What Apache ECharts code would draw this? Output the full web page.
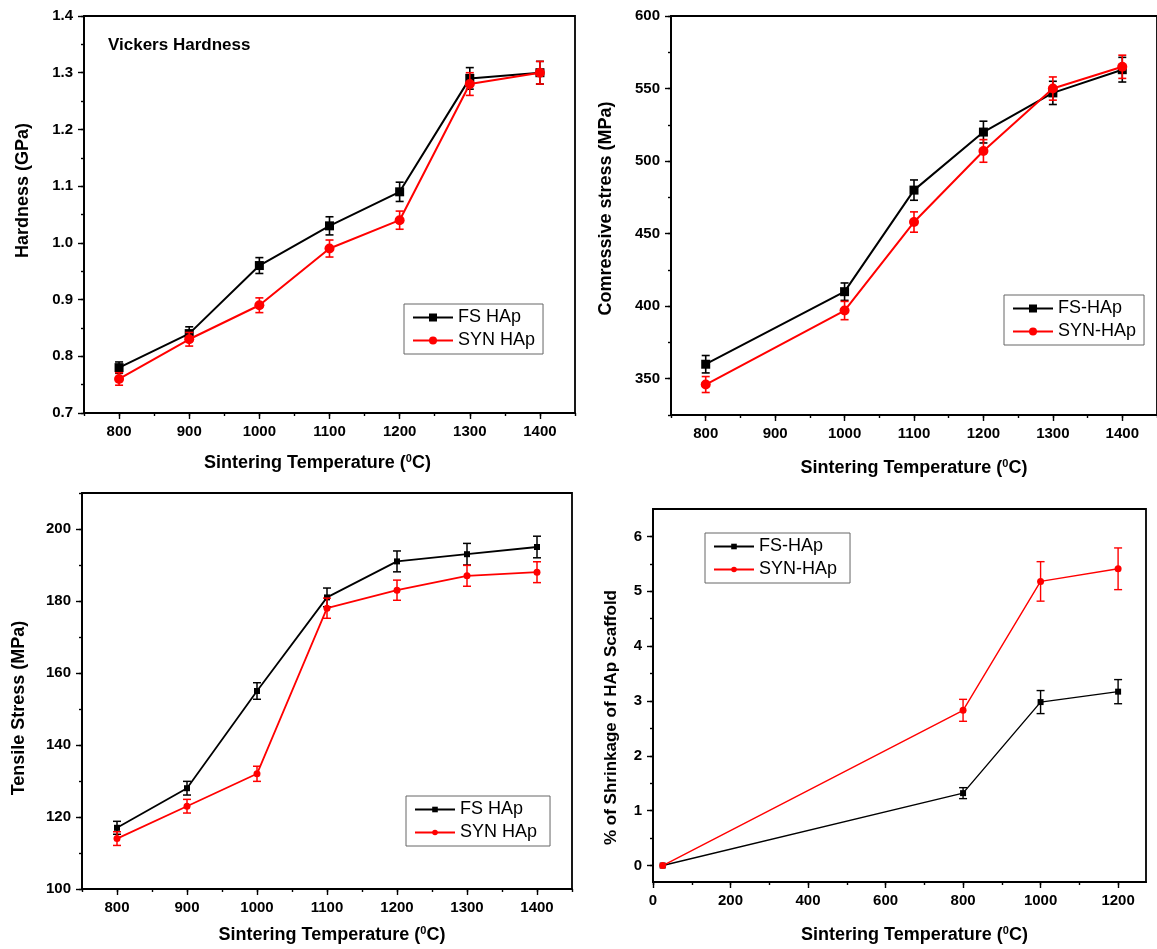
<!DOCTYPE html>
<html><head><meta charset="utf-8">
<script src="https://cdn.jsdelivr.net/npm/echarts@6/dist/echarts.min.js"></script>
<style>html,body{margin:0;padding:0;background:#fff}#c{width:1157px;height:949px}</style>
</head><body><div id="c"></div>
<script>
// ---------- Panel A: Vickers hardness ----------
const hardTemps = [800, 900, 1000, 1100, 1200, 1300, 1400];
const hardFS = [0.78, 0.84, 0.96, 1.03, 1.09, 1.29, 1.30];
const hardFSErr = [0.01, 0.012, 0.014, 0.016, 0.017, 0.019, 0.02];
const hardSYN = [0.76, 0.83, 0.89, 0.99, 1.04, 1.28, 1.30];
const hardSYNErr = [0.011, 0.012, 0.013, 0.015, 0.016, 0.02, 0.02];
const hardXTicks = [750, 800, 850, 900, 950, 1000, 1050, 1100, 1150, 1200, 1250, 1300, 1350, 1400, 1450];
const hardXLabels = [800, 900, 1000, 1100, 1200, 1300, 1400];
const hardYTicks = [0.7, 0.75, 0.8, 0.85, 0.9, 0.95, 1.0, 1.05, 1.1, 1.15, 1.2, 1.25, 1.3, 1.35, 1.4];
const hardYLabels = [0.7, 0.8, 0.9, 1.0, 1.1, 1.2, 1.3, 1.4];

// ---------- Panel B: Compressive stress ----------
const compTemps = [800, 1000, 1100, 1200, 1300, 1400];
const compFS = [360, 410, 480, 520, 547, 563];
const compFSErr = [6, 6, 7, 7.5, 8, 8.5];
const compSYN = [346, 397, 458, 507, 550, 565];
const compSYNErr = [5.5, 6.3, 7, 7.8, 8, 8];
const compXTicks = hardXTicks;
const compXLabels = hardXLabels;
const compYTicks = [325, 350, 375, 400, 425, 450, 475, 500, 525, 550, 575, 600];
const compYLabels = [350, 400, 450, 500, 550, 600];

// ---------- Panel C: Tensile stress ----------
const tensTemps = [800, 900, 1000, 1100, 1200, 1300, 1400];
const tensFS = [117, 128, 155, 181, 191, 193, 195];
const tensFSErr = [1.8, 1.9, 2.3, 2.6, 2.9, 3, 3];
const tensSYN = [114, 123, 132, 178, 183, 187, 188];
const tensSYNErr = [1.9, 1.9, 2.1, 2.8, 2.8, 2.9, 2.9];
const tensXTicks = hardXTicks;
const tensXLabels = hardXLabels;
const tensYTicks = [100, 110, 120, 130, 140, 150, 160, 170, 180, 190, 200, 210];
const tensYLabels = [100, 120, 140, 160, 180, 200];

// ---------- Panel D: Shrinkage ----------
const shrTemps = [25, 800, 1000, 1200];
const shrFS = [0, 1.32, 2.98, 3.17];
const shrFSErr = [0, 0.1, 0.21, 0.22];
const shrSYN = [0, 2.83, 5.18, 5.41];
const shrSYNErr = [0, 0.2, 0.36, 0.38];
const shrXTicks = [0, 100, 200, 300, 400, 500, 600, 700, 800, 900, 1000, 1100, 1200];
const shrXLabels = [0, 200, 400, 600, 800, 1000, 1200];
const shrYTicks = [0, 0.5, 1, 1.5, 2, 2.5, 3, 3.5, 4, 4.5, 5, 5.5, 6];
const shrYLabels = [0, 1, 2, 3, 4, 5, 6];

const FONT = '"Liberation Sans", Arial, Helvetica, sans-serif';
const BLACK = '#000000', RED = '#ff0000';
const tempName = '{a|Sintering Temperature (}{s|0}{a|C)}';
const tempRich = {
  a: {fontSize: 18, fontWeight: 'bold', fontFamily: FONT, color: '#000', lineHeight: 20},
  s: {fontSize: 11, fontWeight: 'bold', fontFamily: FONT, color: '#000', lineHeight: 11, verticalAlign: 'top'}
};

function axes(dim, gridIndex, min, max, ticks, labels, fmt, nameCfg) {
  const pos = dim === 'x' ? 'bottom' : 'left';
  const main = {
    type: 'value', gridIndex: gridIndex, position: pos, min: min, max: max,
    axisLine: {show: true, onZero: false, lineStyle: {color: '#000', width: 1.8}},
    axisTick: {show: true, inside: false, length: 3, customValues: ticks, lineStyle: {color: '#000', width: 1.4}},
    axisLabel: {show: true, customValues: labels, formatter: fmt, color: '#000', fontFamily: FONT,
      fontWeight: 'bold', fontSize: 15, margin: dim === 'x' ? 11 : 11},
    splitLine: {show: false}, minorTick: {show: false}
  };
  if (nameCfg) {
    main.name = nameCfg.text;
    main.nameLocation = 'middle';
    main.nameGap = nameCfg.gap;
    main.nameTextStyle = Object.assign({fontSize: nameCfg.size || 18, fontWeight: 'bold', fontFamily: FONT, color: '#000',
      padding: nameCfg.padding || 0}, nameCfg.rich ? {rich: nameCfg.rich} : {});
  }
  const over = {
    type: 'value', gridIndex: gridIndex, position: pos, min: min, max: max,
    axisLine: {show: false, onZero: false},
    axisTick: {show: true, inside: false, length: 6, customValues: labels, lineStyle: {color: '#000', width: 1.4}},
    axisLabel: {show: false}, splitLine: {show: false}
  };
  return [main, over];
}

function pairs(xs, ys, es) {
  return xs.map((x, i) => es ? [x, ys[i], es[i]] : [x, ys[i]]);
}

function lineSeries(name, axisIdx, xs, ys, color, symbol, size, width, z) {
  return {
    type: 'line', name: name, xAxisIndex: axisIdx, yAxisIndex: axisIdx,
    data: pairs(xs, ys), symbol: symbol, symbolSize: size, showSymbol: true,
    lineStyle: {color: color, width: width}, itemStyle: {color: color},
    z: z, animation: false, emphasis: {disabled: true}
  };
}

function errSeries(axisIdx, xs, ys, es, color, lw, cap, z) {
  return {
    type: 'custom', xAxisIndex: axisIdx, yAxisIndex: axisIdx,
    data: pairs(xs, ys, es), encode: {x: 0, y: 1}, z: z, animation: false, silent: true,
    renderItem: function (params, api) {
      const x = api.value(0), y = api.value(1), e = api.value(2);
      if (!e) return null;
      const t = api.coord([x, y + e]), b = api.coord([x, y - e]);
      const st = {stroke: color, lineWidth: lw};
      return {type: 'group', children: [
        {type: 'line', shape: {x1: t[0], y1: t[1], x2: b[0], y2: b[1]}, style: st},
        {type: 'line', shape: {x1: t[0] - cap, y1: t[1], x2: t[0] + cap, y2: t[1]}, style: st},
        {type: 'line', shape: {x1: b[0] - cap, y1: b[1], x2: b[0] + cap, y2: b[1]}, style: st}
      ]};
    }
  };
}

function legend(names, left, top, fontSize, itemH) {
  return {
    show: true, orient: 'vertical', left: left, top: top, data: names,
    padding: [3, 8, 3, 8], itemGap: 2, itemWidth: 40, itemHeight: itemH,
    borderColor: '#666', borderWidth: 1, selectedMode: false,
    textStyle: {fontSize: fontSize, fontFamily: FONT, color: '#000', lineHeight: 21, padding: [0, 0, 0, 0]}
  };
}

const f1 = v => v.toFixed(1);
const f0 = v => String(Math.round(v));

const xA = axes('x', 0, 750, 1450, hardXTicks, hardXLabels, f0, {text: tempName, gap: 40, rich: tempRich, padding: [0, 24, 0, 0]});
const yA = axes('y', 0, 0.7, 1.4, hardYTicks, hardYLabels, f1, {text: 'Hardness (GPa)', gap: 52, padding: [0, 0, 0, 48]});
const xB = axes('x', 1, 750, 1450, compXTicks, compXLabels, f0, {text: tempName, gap: 43, rich: tempRich});
const yB = axes('y', 1, 325, 600, compYTicks, compYLabels, f0, {text: 'Comressive stress (MPa)', gap: 56, padding: [0, 0, 0, 14]});
const xC = axes('x', 2, 750, 1450, tensXTicks, tensXLabels, f0, {text: tempName, gap: 36, rich: tempRich, padding: [0, 0, 0, 10]});
const yC = axes('y', 2, 100, 210, tensYTicks, tensYLabels, f0, {text: 'Tensile Stress (MPa)', gap: 54, padding: [0, 34, 0, 0]});
const xD = axes('x', 3, 0, 1272, shrXTicks, shrXLabels, f0, {text: tempName, gap: 43, rich: tempRich, padding: [0, 0, 0, 30]});
const yD = axes('y', 3, -0.3, 6.5, shrYTicks, shrYLabels, f0, {text: '% of Shrinkage of HAp Scaffold', gap: 33, size: 17, padding: [0, 44, 0, 0]});

const gridBase = {show: true, borderColor: '#000', borderWidth: 1.8, backgroundColor: 'transparent', containLabel: false};

const option = {
  animation: false,
  backgroundColor: '#ffffff',
  textStyle: {fontFamily: FONT},
  title: {text: 'Vickers Hardness', left: 108, top: 37, padding: 0,
    textStyle: {fontSize: 17, fontWeight: 'bold', fontFamily: FONT, color: '#000'}},
  grid: [
    Object.assign({left: 84, top: 16, width: 491, height: 397}, gridBase),
    Object.assign({left: 671, top: 16, width: 487, height: 399}, gridBase),
    Object.assign({left: 82, top: 493, width: 490, height: 396}, gridBase),
    Object.assign({left: 653, top: 509, width: 493, height: 373}, gridBase)
  ],
  xAxis: [].concat(xA, xB, xC, xD),
  yAxis: [].concat(yA, yB, yC, yD),
  legend: [
    legend(['FS HAp', 'SYN HAp'], 404, 304, 18, 10),
    legend(['FS-HAp', 'SYN-HAp'], 1004, 295, 18, 10),
    legend(['FS HAp ', 'SYN HAp '], 406, 796, 18, 7),
    legend(['FS-HAp ', 'SYN-HAp '], 705, 533, 18, 7)
  ],
  series: [
    // panel A (axis index 0)
    errSeries(0, hardTemps, hardFS, hardFSErr, BLACK, 1.6, 4, 2),
    lineSeries('FS HAp', 0, hardTemps, hardFS, BLACK, 'rect', 9, 2, 2),
    errSeries(0, hardTemps, hardSYN, hardSYNErr, RED, 1.6, 4, 3),
    lineSeries('SYN HAp', 0, hardTemps, hardSYN, RED, 'circle', 10, 2, 3),
    // panel B (axis index 2)
    errSeries(2, compTemps, compFS, compFSErr, BLACK, 1.6, 4, 2),
    lineSeries('FS-HAp', 2, compTemps, compFS, BLACK, 'rect', 9, 2, 2),
    errSeries(2, compTemps, compSYN, compSYNErr, RED, 1.6, 4, 3),
    lineSeries('SYN-HAp', 2, compTemps, compSYN, RED, 'circle', 10, 2, 3),
    // panel C (axis index 4)
    errSeries(4, tensTemps, tensFS, tensFSErr, BLACK, 1.5, 4, 2),
    lineSeries('FS HAp ', 4, tensTemps, tensFS, BLACK, 'rect', 6, 1.8, 2),
    errSeries(4, tensTemps, tensSYN, tensSYNErr, RED, 1.5, 4, 3),
    lineSeries('SYN HAp ', 4, tensTemps, tensSYN, RED, 'circle', 7, 1.8, 3),
    // panel D (axis index 6)
    errSeries(6, shrTemps, shrFS, shrFSErr, BLACK, 1.4, 4, 2),
    lineSeries('FS-HAp ', 6, shrTemps, shrFS, BLACK, 'rect', 6, 1.4, 2),
    errSeries(6, shrTemps, shrSYN, shrSYNErr, RED, 1.4, 4, 3),
    lineSeries('SYN-HAp ', 6, shrTemps, shrSYN, RED, 'circle', 7, 1.4, 3)
  ]
};

const chart = echarts.init(document.getElementById('c'), null, {renderer: 'canvas'});
chart.setOption(option);
</script>
</body></html>
